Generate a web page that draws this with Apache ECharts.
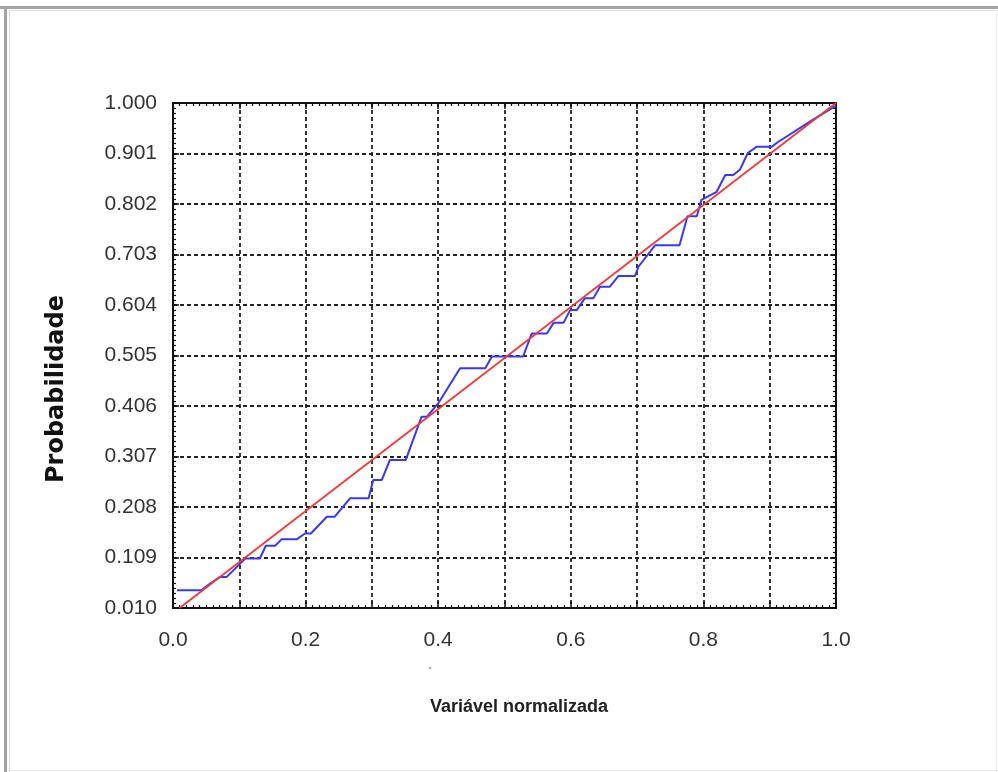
<!DOCTYPE html>
<html>
<head>
<meta charset="utf-8">
<script src="https://cdn.jsdelivr.net/npm/echarts@6/dist/echarts.min.js"></script>
<style>
  html, body { margin: 0; padding: 0; background: #fff; }
  #chart { width: 998px; height: 772px; }
</style>
</head>
<body>
<div id="chart"></div>
<script>
var blueX = [0.006, 0.043, 0.056, 0.071, 0.081, 0.109, 0.131, 0.140, 0.154, 0.164, 0.187, 0.199, 0.208,
             0.232, 0.244, 0.267, 0.295, 0.302, 0.315, 0.327, 0.351, 0.375, 0.383, 0.400, 0.433, 0.471,
             0.481, 0.528, 0.541, 0.564, 0.574, 0.589, 0.599, 0.609, 0.621, 0.634, 0.644, 0.659, 0.672,
             0.697, 0.702, 0.727, 0.764, 0.776, 0.790, 0.797, 0.820, 0.833, 0.845, 0.855, 0.867, 0.880,
             0.903, 0.912, 0.960, 1.000];
var blueY = [0.045, 0.045, 0.058, 0.071, 0.071, 0.107, 0.107, 0.132, 0.132, 0.145, 0.145, 0.156, 0.156,
             0.189, 0.189, 0.225, 0.225, 0.261, 0.261, 0.300, 0.300, 0.385, 0.385, 0.411, 0.480, 0.480,
             0.503, 0.503, 0.548, 0.548, 0.569, 0.569, 0.594, 0.594, 0.617, 0.617, 0.640, 0.640, 0.661,
             0.661, 0.679, 0.721, 0.721, 0.778, 0.778, 0.810, 0.826, 0.859, 0.859, 0.869, 0.902, 0.914,
             0.914, 0.923, 0.963, 0.995];
// theoretical line (red)
var redX = [0.01, 1.0];
var redY = [0.01, 1.0];

var xMin = 0, xMax = 1, xStep = 0.1;
var yMin = 0.010, yMax = 1.000, yStep = 0.099;
var xTitle = 'Variável normalizada';
var yTitle = 'Probabilidade';

function pairs(xs, ys) {
  return xs.map(function (x, i) { return [x, ys[i]]; });
}

var chart = echarts.init(document.getElementById('chart'));

var tickFont = { fontFamily: 'Liberation Sans', fontSize: 21, color: '#333' };
var gridLine = { show: true, lineStyle: { color: '#222', width: 1.8, type: [4, 3] } };
var frameLine = { show: true, onZero: false, lineStyle: { color: '#111', width: 2 } };
var ticks = { show: true, inside: true, length: 6, lineStyle: { color: '#111', width: 1.5 } };
var minor = { show: true, splitNumber: 10, length: 3, lineStyle: { color: '#111', width: 1.2 } };

var option = {
  animation: false,
  backgroundColor: '#fff',
  grid: { left: 173, right: 162, top: 103, bottom: 164 },
  graphic: [
    { type: 'rect', shape: { x: 0, y: 6, width: 998, height: 3 }, style: { fill: '#a4a4a4' } },
    { type: 'rect', shape: { x: 4, y: 6, width: 3, height: 766 }, style: { fill: '#a4a4a4' } },
    { type: 'rect', shape: { x: 9, y: 10, width: 1, height: 762 }, style: { fill: '#d6d6d6' } },
    { type: 'rect', shape: { x: 9, y: 10, width: 989, height: 1 }, style: { fill: '#e0e0e0' } },
    { type: 'rect', shape: { x: 9, y: 770, width: 989, height: 1 }, style: { fill: '#e6e6e6' } },
    { type: 'rect', shape: { x: 996, y: 10, width: 1, height: 762 }, style: { fill: '#eeeeee' } },
    { type: 'circle', shape: { cx: 430, cy: 668, r: 1 }, style: { fill: '#888' } },
    {
      type: 'text', left: 430, top: 698,
      style: { text: xTitle, fontFamily: 'Liberation Sans', fontWeight: 'bold',
               fontSize: 18, fill: '#222' }
    },
    {
      type: 'text', x: 45, y: 389, rotation: Math.PI / 2,
      style: { text: yTitle, fontFamily: 'DejaVu Sans', fontWeight: 'bold', fontSize: 24, fill: '#111',
               align: 'center', verticalAlign: 'top' }
    }
  ],
  xAxis: [{
    type: 'value', min: xMin, max: xMax, interval: xStep, position: 'bottom',
    axisLine: frameLine, axisTick: ticks, minorTick: minor,
    axisLabel: Object.assign({
      margin: 22,
      formatter: function (v) { return Math.round(v * 10) % 2 ? '' : v.toFixed(1); }
    }, tickFont),
    splitLine: gridLine
  }, {
    type: 'value', min: xMin, max: xMax, interval: xStep, position: 'top',
    axisLine: frameLine, axisTick: ticks, minorTick: minor,
    axisLabel: { show: false },
    splitLine: { show: false }
  }],
  yAxis: [{
    type: 'value', min: yMin, max: yMax, interval: yStep, position: 'left',
    axisLine: frameLine, axisTick: ticks, minorTick: minor,
    axisLabel: Object.assign({ margin: 16, formatter: function (v) { return v.toFixed(3); } }, tickFont),
    splitLine: gridLine
  }, {
    type: 'value', min: yMin, max: yMax, interval: yStep, position: 'right',
    axisLine: frameLine, axisTick: ticks, minorTick: minor,
    axisLabel: { show: false },
    splitLine: { show: false }
  }],
  series: [{
    name: 'empirica', type: 'line', data: pairs(blueX, blueY), showSymbol: false,
    lineStyle: { color: '#3838f8', width: 2 }, z: 3
  }, {
    name: 'teorica', type: 'line', data: pairs(redX, redY), showSymbol: false,
    lineStyle: { color: '#f03a3a', width: 1.8 }, z: 4
  }]
};

chart.setOption(option);
</script>
</body>
</html>
